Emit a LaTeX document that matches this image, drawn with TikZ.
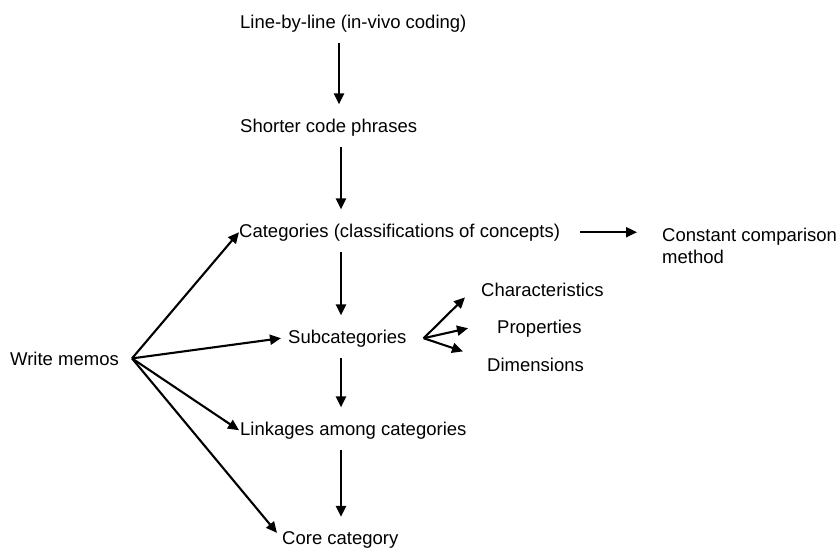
\documentclass[tikz,border=0pt]{standalone}
\usepackage{fontspec}
\setmainfont{Liberation Sans}
\usetikzlibrary{arrows.meta}
\begin{document}
\begin{tikzpicture}[x=1pt,y=-1pt,
  txt/.style={inner sep=0pt, anchor=base west, font=\fontsize{18.5}{22}\selectfont},
  arr/.style={line width=2.1pt, -{Triangle[length=11pt,width=10pt]}},
  varr/.style={arr, shorten <=11pt, shorten >=14pt}]
\useasboundingbox (0,0) rectangle (840,547);
\node[txt] (l1) at (240,28) {Line-by-line (in-vivo coding)};
\node[txt] (l2) at (240,132) {Shorter code phrases};
\node[txt] (cat) at (239,237) {Categories (classifications of concepts)};
\node[txt, align=left] (ccm) at (662,263) {Constant comparison\\method};
\node[txt] (sub) at (288,343) {Subcategories};
\node[txt] (ch) at (481,296) {Characteristics};
\node[txt] (pr) at (497,333) {Properties};
\node[txt] (di) at (487,371) {Dimensions};
\node[txt] (lk) at (240,435) {Linkages among categories};
\node[txt] (core) at (282,544) {Core category};
\node[txt] (wm) at (10,365) {Write memos};
\coordinate (wmo) at ([xshift=13pt]wm.east);
\coordinate (subo) at ([xshift=17pt]sub.east);
% vertical chain
\draw[varr] (l1.south -| 339,0) -- (l2.north -| 339,0);
\draw[varr] (l2.south -| 341,0) -- (cat.north -| 341,0);
\draw[varr] (cat.south -| 341,0) -- (sub.north -| 341,0);
\draw[varr] (sub.south -| 341,0) -- (lk.north -| 341,0);
\draw[varr] (lk.south -| 341,0) -- (core.north -| 341,0);
% constant comparison
\draw[arr, shorten <=20pt] (cat.east) -- ([xshift=-25pt]cat.east -| ccm.west);
% subcategories fan
\draw[arr] (subo) -- ([xshift=-16pt,yshift=-1pt]ch.south west);
\draw[arr] (subo) -- ([xshift=-29pt]pr.west);
\draw[arr] (subo) -- ([xshift=-24pt,yshift=6pt]di.north west);
% write memos fan
\draw[arr] (wmo) -- (cat.west);
\draw[arr] (wmo) -- ([xshift=-7pt]sub.west);
\draw[arr] (wmo) -- ([xshift=-1pt]lk.west);
\draw[arr] (wmo) -- ([xshift=-5pt,yshift=-2pt]core.north west);
\end{tikzpicture}
\end{document}
